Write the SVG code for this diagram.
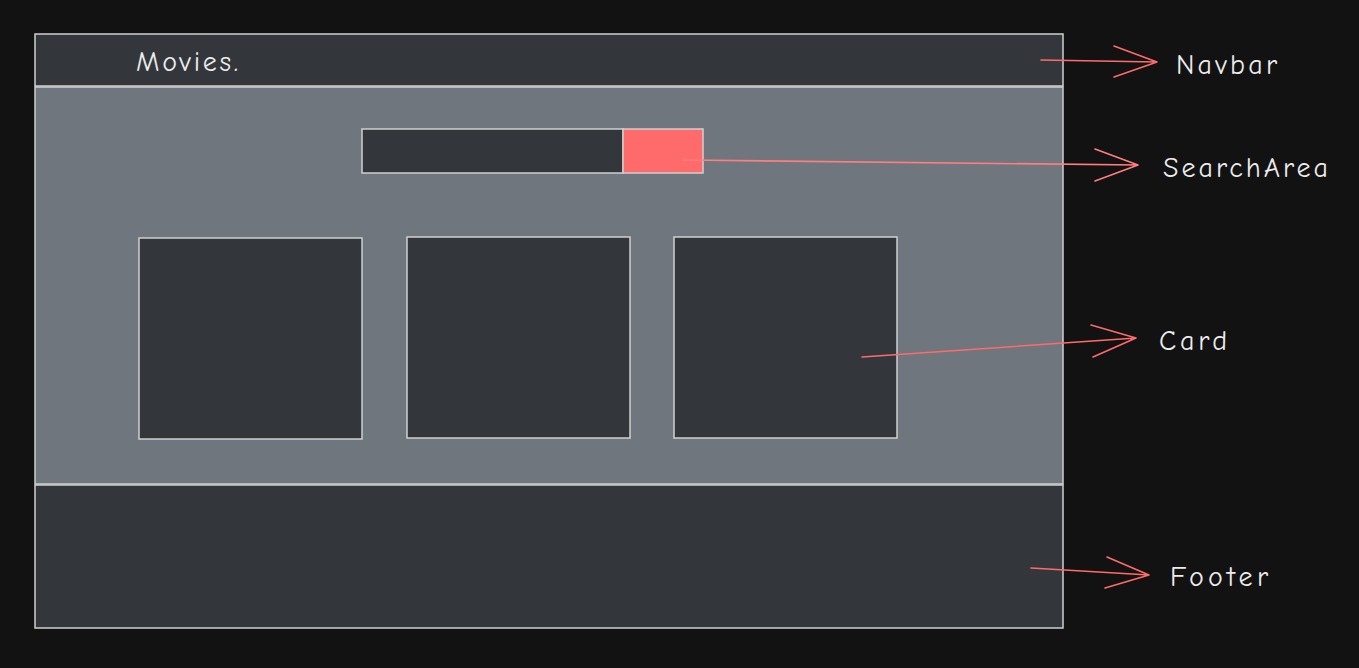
<svg xmlns="http://www.w3.org/2000/svg" width="1359" height="668" viewBox="0 0 1359 668">
<style>
.box{stroke:#cfcfcf;stroke-width:1.5}
.dark{fill:#33373b}
.mid{fill:#6f767e}
.arr{stroke:#ff6b6b;stroke-width:1.6;fill:none;stroke-linecap:round;stroke-linejoin:round}
.lbl{font-family:"Comic Neue","Lato","Noto Sans",sans-serif;font-size:28px;fill:#ececec}
</style>
<rect x="0" y="0" width="1359" height="668" fill="#121212"/>
<g id="navbar">
<rect class="box dark" x="35" y="34" width="1028" height="52"/>
<text class="lbl" x="136" y="71" textLength="102">Movies.</text>
</g>
<g id="main">
<rect class="box mid" x="35" y="87" width="1028" height="397"/>
</g>
<g id="footer">
<rect class="box dark" x="35" y="485" width="1028" height="143"/>
</g>
<g id="search">
<rect class="box dark" x="362" y="129" width="261" height="44"/>
<rect class="box" x="623" y="129" width="80" height="44" fill="#ff6b6b"/>
</g>
<g id="card1"><rect class="box dark" x="139" y="238" width="223" height="201"/></g>
<g id="card2"><rect class="box dark" x="407" y="237" width="223" height="201"/></g>
<g id="card3"><rect class="box dark" x="674" y="237" width="223" height="201"/></g>
<g id="connectors">
<path class="arr" d="M1041 60 L1157 62 M1114 46 L1157 62 L1114 77"/>
<path class="arr" d="M683 160 L1138 165 M1095 149 L1138 165 L1095 181" style="stroke:#ff7f7f"/>
<path class="arr" d="M862 357 L1136 338 M1091 325 L1136 338 L1093 357"/>
<path class="arr" d="M1031 568 L1149 575 M1107 557 L1149 575 L1105 588"/>
</g>
<g id="labels">
<text class="lbl" x="1176" y="74" textLength="101">Navbar</text>
<text class="lbl" x="1163" y="177" textLength="165">SearchArea</text>
<text class="lbl" x="1159" y="350" textLength="68">Card</text>
<text class="lbl" x="1170" y="586" textLength="98">Footer</text>
</g>
</svg>
